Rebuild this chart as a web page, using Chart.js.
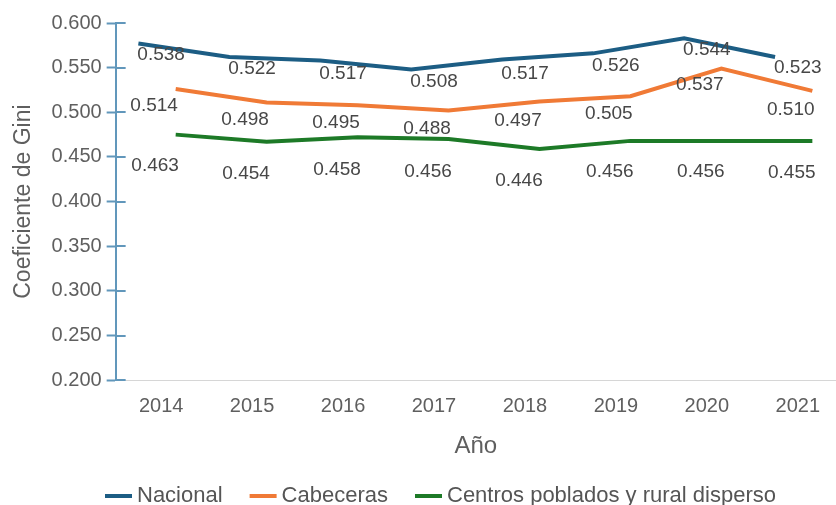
<!DOCTYPE html>
<html>
<head>
<meta charset="utf-8">
<script src="https://cdn.jsdelivr.net/npm/chart.js@4/dist/chart.umd.min.js"></script>
<style>
  html, body { margin: 0; padding: 0; background: #ffffff; }
  #wrap { width: 836px; height: 505px; }
</style>
</head>
<body>
<div id="wrap"><canvas id="c" width="836" height="505"></canvas></div>
<script>
// ---- data ----
const years = [2014, 2015, 2016, 2017, 2018, 2019, 2020, 2021];
const seriesNames = ['Nacional', 'Cabeceras', 'Centros poblados y rural disperso'];
// line values as drawn
const nacional  = [0.577, 0.562, 0.558, 0.548, 0.559, 0.566, 0.583, 0.562];
const cabeceras = [0.526, 0.511, 0.508, 0.502, 0.512, 0.518, 0.549, 0.524];
const rural     = [0.475, 0.467, 0.472, 0.470, 0.459, 0.468, 0.468, 0.468];
// value labels as printed
const nacionalLabels  = ['0.538', '0.522', '0.517', '0.508', '0.517', '0.526', '0.544', '0.523'];
const cabecerasLabels = ['0.514', '0.498', '0.495', '0.488', '0.497', '0.505', '0.537', '0.510'];
const ruralLabels     = ['0.463', '0.454', '0.458', '0.456', '0.446', '0.456', '0.456', '0.455'];
const yTicks = ['0.200', '0.250', '0.300', '0.350', '0.400', '0.450', '0.500', '0.550', '0.600'];

// ---- styling ----
const FONT = '"Liberation Sans", Arial, Helvetica, sans-serif';
const AXIS_BLUE = '#6197bb';
const colors = ['#1c5d84', '#f07a36', '#1d7a27'];
const xShift = [-0.25, 0.16, 0.16];     // horizontal placement of each line
const labelDx = [0, -7, -6];            // label nudges in px
const labelDy = [-23.5, 6, 20];

function pts(vals, s) { return years.map((yr, i) => ({ x: yr + xShift[s], y: vals[i] })); }
const valueSets = [nacional, cabeceras, rural];
const labelSets = [nacionalLabels, cabecerasLabels, ruralLabels];

const datasets = valueSets.map((vals, s) => ({
  label: seriesNames[s],
  data: pts(vals, s),
  borderColor: colors[s],
  backgroundColor: colors[s],
  borderWidth: 4,
  pointRadius: 0,
  tension: 0,
  valueLabels: labelSets[s],
  labelDx: labelDx[s],
  labelDy: labelDy[s]
}));

const valueLabelPlugin = {
  id: 'valueLabels',
  afterDatasetsDraw(chart) {
    const { ctx, scales: { x, y } } = chart;
    ctx.save();
    ctx.font = '19px ' + FONT;
    ctx.fillStyle = '#474747';
    ctx.textAlign = 'center';
    ctx.textBaseline = 'middle';
    chart.data.datasets.forEach(ds => {
      ds.valueLabels.forEach((t, i) => {
        const px = x.getPixelForValue(years[i]) + ds.labelDx;
        const py = y.getPixelForValue(parseFloat(t)) + ds.labelDy;
        ctx.fillText(t, px, py);
      });
    });
    ctx.restore();
  }
};

const innerTickPlugin = {
  id: 'innerTicks',
  afterDraw(chart) {
    const { ctx, chartArea, scales: { y } } = chart;
    ctx.save();
    ctx.strokeStyle = AXIS_BLUE;
    ctx.lineWidth = 2;
    y.ticks.forEach(t => {
      const py = Math.round(y.getPixelForValue(t.value));
      ctx.beginPath();
      ctx.moveTo(chartArea.left, py);
      ctx.lineTo(chartArea.left + 10, py);
      ctx.stroke();
    });
    ctx.restore();
  }
};

const legendPlugin = {
  id: 'bottomLegend',
  afterDraw(chart) {
    const { ctx } = chart;
    ctx.save();
    ctx.font = '22px ' + FONT;
    ctx.textAlign = 'left';
    ctx.textBaseline = 'middle';
    let lx = 105;
    const ly = 496;
    chart.data.datasets.forEach(ds => {
      ctx.fillStyle = ds.borderColor;
      ctx.fillRect(lx, ly - 2, 27, 4);
      lx += 27 + 5;
      ctx.fillStyle = '#555555';
      ctx.fillText(ds.label, lx, ly);
      lx += ctx.measureText(ds.label).width + 27;
    });
    ctx.restore();
  }
};

new Chart(document.getElementById('c'), {
  type: 'line',
  data: { datasets },
  options: {
    responsive: false,
    animation: false,
    devicePixelRatio: 1,
    layout: { padding: { top: 23, right: 0, bottom: 40, left: 0 } },
    plugins: { legend: { display: false }, tooltip: { enabled: false } },
    scales: {
      x: {
        type: 'linear',
        min: 2013.5,
        max: 2021.42,
        afterBuildTicks: (scale) => { scale.ticks = years.map(v => ({ value: v })); },
        ticks: {
          autoSkip: false,
          maxRotation: 0,
          padding: 14,
          color: '#5f5f5f',
          font: { family: FONT, size: 20 },
          callback: (v) => String(v)
        },
        grid: { display: false, drawTicks: false },
        border: { display: true, color: '#d6d6d6', width: 1 },
        title: {
          display: true,
          text: 'Año',
          color: '#5f5f5f',
          font: { family: FONT, size: 24 },
          padding: { top: 0, bottom: 4 }
        }
      },
      y: {
        min: 0.2,
        max: 0.6,
        afterBuildTicks: (scale) => { scale.ticks = yTicks.map(v => ({ value: parseFloat(v) })); },
        ticks: {
          padding: 5,
          color: '#5f5f5f',
          font: { family: FONT, size: 20 },
          callback: (v) => v.toFixed(3)
        },
        grid: { drawOnChartArea: false, drawTicks: true, tickLength: 9, tickColor: AXIS_BLUE, tickWidth: 2 },
        border: { display: true, color: AXIS_BLUE, width: 2 },
        title: {
          display: true,
          text: 'Coeficiente de Gini',
          color: '#5f5f5f',
          font: { family: FONT, size: 23 },
          padding: { top: 10, bottom: 9 }
        }
      }
    }
  },
  plugins: [valueLabelPlugin, innerTickPlugin, legendPlugin]
});
</script>
</body>
</html>
